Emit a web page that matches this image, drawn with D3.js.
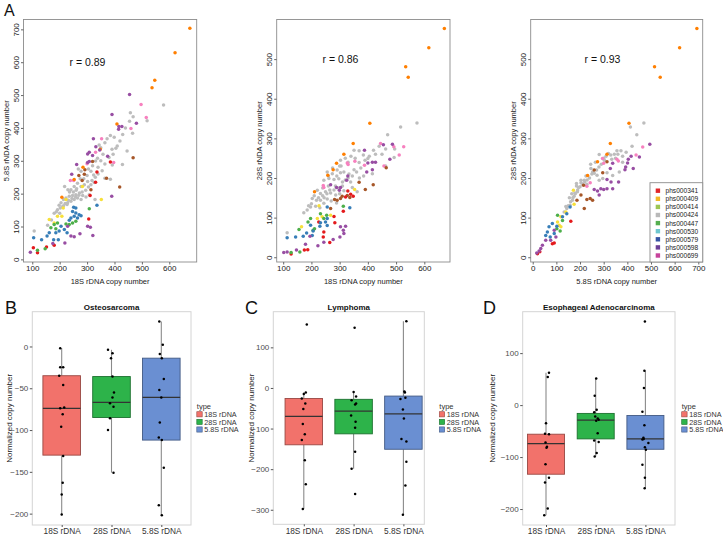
<!DOCTYPE html>
<html><head><meta charset="utf-8">
<script src="https://cdn.jsdelivr.net/npm/d3@7"></script>
<style>body{margin:0;background:#fff}svg{display:block;font-family:"Liberation Sans",Arial,sans-serif}</style>
</head><body><svg id="c" width="723" height="535"></svg>
<script>
// ---------- DATA ----------
const dotColors = {r:"#E41A1C", b:"#377EB8", g:"#4DAF4A", p:"#984EA3", o:"#FF7F00", y:"#F7E03A", n:"#A65628", k:"#F781BF", a:"#BDBDBD"};
const drawOrder = ["a","k","n","o","r","y","g","b","p"];

const studies = ["phs000341","phs000409","phs000414","phs000424","phs000447","phs000530","phs000579","phs000598","phs000699"];
const studyColors = ["#E0262A","#F2B825","#9DC653","#B9B9B9","#55AE4E","#6EC7CF","#3453A4","#6B3F97","#C7449C"];

// A1: x = 18S, y = 5.8S
const a1Points = [
 ["a", [[579,470],[458,446],[468,434],[519,422],[466,384],[373,367],[385,377],[399,372],[391,335],[405,338],[446,330],[344,348],[358,320],[429,289],[338,308],[331,299],[392,287],[268,275],[278,268],[314,268],[324,257],[365,247],[385,244],[218,222],[230,212],[241,212],[253,222],[265,232],[278,222],[290,227],[302,237],[314,227],[326,234],[205,172],[214,182],[223,187],[235,192],[247,194],[259,197],[272,202],[284,194],[296,190],[308,197],[265,187],[253,182],[241,177],[229,172],[278,182],[192,151],[202,156],[214,163],[227,167],[107,86],[156,104],[329,182],[180,140],[200,140],[260,210],[300,255],[350,300],[420,360],[340,280],
   [210,160],[220,170],[232,180],[245,185],[258,190],[270,195],[282,205],[295,210],[305,220],[318,240],[330,250],[340,260],[355,270],[365,290],[380,310],[395,320],[410,345],[188,145],[198,165],[236,205],[250,205],[262,215],[275,245],[288,245],[305,275],[320,285],[350,340],[365,355],[430,380],[440,400],[455,420],[170,120]]],
 ["k", [[497,471],[516,432],[460,398],[353,367],[331,326],[397,295],[300,291],[239,240],[251,240]]],
 ["n", [[468,309],[419,220],[320,298],[270,255],[290,259],[371,247],[292,273],[314,212],[282,240]]],
 ["o", [[675,703],[621,629],[547,545],[537,522],[409,412],[348,335],[285,280],[253,243],[208,189]]],
 ["r", [[385,296],[336,266],[331,235],[311,194],[306,123],[180,43],[152,38],[104,35],[119,20]]],
 ["y", [[283,222],[352,182],[223,182],[213,156],[192,131],[208,131],[162,121],[180,111]]],
 ["g", [[308,154],[259,116],[247,111],[235,106],[223,108],[192,111],[180,106],[168,96],[186,93],[147,32],[119,28]]],
 ["b", [[336,165],[251,159],[259,156],[247,146],[259,141],[253,131],[265,126],[241,126],[235,119],[271,136],[278,133],[205,101],[217,91],[198,86],[227,81],[186,81],[162,81],[154,71],[134,60],[105,66],[178,60],[195,60]]],
 ["p", [[455,502],[391,441],[416,404],[427,404],[415,396],[480,414],[323,367],[332,343],[346,333],[302,321],[308,326],[320,316],[375,314],[262,289],[302,295],[308,298],[244,259],[390,192],[302,101],[312,98],[321,73],[229,101],[274,78],[241,71],[253,69],[219,50],[175,48],[93,22]]]
];

// A2: x = 18S, y = 28S
const a2Points = [
 ["a", [[574,339],[516,329],[470,309],[463,273],[495,273],[493,252],[384,258],[351,270],[369,269],[427,260],[303,245],[369,239],[400,249],[416,211],[463,230],[256,215],[274,211],[291,220],[303,213],[315,215],[333,210],[351,221],[244,194],[262,199],[280,196],[297,198],[310,190],[339,190],[221,169],[232,161],[250,165],[268,162],[286,157],[315,168],[345,176],[362,165],[203,148],[218,144],[232,144],[244,136],[256,147],[270,142],[289,137],[215,129],[197,127],[185,119],[173,112],[114,62],[300,230],[330,240],[285,180],[260,180],[240,175],
   [210,155],[225,150],[240,155],[255,160],[265,170],[280,170],[295,175],[310,180],[320,195],[330,200],[345,205],[360,215],[375,225],[390,245],[405,255],[420,270],[440,280],[260,205],[275,225],[290,205],[305,230],[320,250],[340,255],[355,250],[200,135],[190,130],[230,125],[245,150],[300,160],[370,200],[385,205],[450,260]]],
 ["k", [[445,287],[492,279],[511,258],[527,279],[457,230],[327,238],[330,234],[354,242],[388,232],[242,181],[244,176]]],
 ["n", [[465,226],[369,189],[391,171],[419,183],[282,146],[291,144],[303,148],[309,154],[327,156],[336,151],[268,123]]],
 ["o", [[671,577],[616,529],[534,481],[543,454],[407,338],[348,287],[315,260],[277,221],[289,237],[258,207],[211,165]]],
 ["r", [[321,152],[339,159],[348,154],[329,167],[313,116],[226,89],[280,103],[283,87],[244,64],[242,51],[265,37],[187,19],[128,8],[175,18]]],
 ["y", [[353,171],[227,130],[268,106],[238,102],[221,98],[165,77]]],
 ["g", [[313,129],[232,110],[254,106],[244,98],[197,98],[188,89],[156,70],[206,68],[211,72],[159,13],[128,12]]],
 ["b", [[336,125],[256,127],[256,98],[250,89],[256,80],[232,87],[197,81],[206,66],[183,61],[171,53],[114,49],[144,51],[203,55],[230,78]]],
 ["p", [[487,285],[455,284],[478,247],[388,270],[400,238],[416,240],[427,240],[416,221],[396,215],[329,205],[325,194],[268,183],[289,176],[299,169],[303,176],[303,77],[321,78],[313,68],[315,60],[301,51],[277,45],[244,38],[223,29],[179,33],[195,53],[102,12],[114,13],[147,18]]]
];

// A3: x = 5.8S, y = 28S
const a3Points = [
 ["a", [[413,329],[470,339],[440,309],[356,269],[373,269],[345,260],[281,259],[320,262],[303,245],[334,247],[366,215],[246,224],[253,215],[272,207],[281,194],[296,199],[314,213],[338,206],[218,194],[229,184],[204,188],[194,176],[189,165],[175,154],[168,144],[158,131],[144,123],[133,114],[178,162],[185,186],[204,194],[380,255],
   [150,130],[160,140],[170,150],[180,160],[190,170],[200,178],[210,185],[220,190],[230,195],[240,200],[250,210],[260,212],[270,220],[280,228],[290,235],[300,250],[310,255],[330,258],[350,250],[360,260],[380,240],[395,265],[420,280],[165,160],[185,180],[225,205],[245,235],[265,240],[155,150],[140,128]]],
 ["k", [[437,258],[465,278],[362,243],[356,247],[300,237],[295,249],[243,188],[229,179]]],
 ["n", [[314,241],[260,220],[296,213],[215,182],[229,146],[243,148],[253,144],[218,123],[187,144],[204,157]]],
 ["o", [[694,577],[621,529],[515,481],[539,454],[407,338],[328,287],[314,260],[274,241],[232,206]]],
 ["r", [[161,91],[83,34],[91,36],[20,9],[30,14]]],
 ["y", [[172,169],[175,134],[140,114],[119,102],[105,89],[112,81],[119,77]]],
 ["g", [[105,106],[126,93],[102,72],[116,66]]],
 ["b", [[158,127],[144,110],[126,102],[83,85],[69,77],[62,64],[55,55],[74,51],[91,60],[102,78]]],
 ["p", [[495,285],[451,253],[425,224],[404,247],[416,255],[401,238],[390,221],[393,228],[338,237],[328,224],[314,196],[331,190],[363,190],[338,173],[260,171],[274,167],[288,173],[300,171],[314,173],[281,157],[91,68],[98,51],[76,43],[55,43],[41,30],[34,22],[27,16],[17,11]]]
];

const corrLabels = ["r = 0.89", "r = 0.86", "r = 0.93"];

// Box plots: stats = [lower whisker, Q1, median, Q3, upper whisker]; points = [value, jitter]
const boxTypes = ["18S rDNA","28S rDNA","5.8S rDNA"];
const boxFills = ["#F2726B","#2DB34A","#6A8FD2"];

const osteoStats = [[-202,-130,-74,-35,-2],[-151,-85,-67,-36,-4],[-202,-112,-61,-14,30]];
const osteoPoints = [
 [[-2,-0.03],[-25,-0.03],[-25,0.03],[-35,-0.05],[-46,0.03],[-74,-0.03],[-73,0.05],[-81,0.02],[-96,-0.01],[-131,0.03],[-163,0.02],[-177,0],[-201,0]],
 [[-4,-0.07],[-8,0.02],[-14,-0.01],[-36,0.02],[-55,0.05],[-61,0.02],[-68,-0.03],[-72,0.04],[-86,-0.03],[-100,-0.07],[-151,0.04]],
 [[30,-0.04],[2,0.03],[-9,-0.03],[-14,0.01],[-39,0.05],[-52,-0.04],[-61,0],[-91,-0.03],[-109,-0.05],[-112,0.01],[-145,0.05],[-190,-0.05],[-202,0.01]]
];
const lymphStats = [[-298,-140,-70,-26,-11],[-199,-113,-57,-28,-10],[-312,-151,-64,-20,164]];
const lymphPoints = [
 [[156,0.06],[-11,0.04],[-15,0],[-26,-0.04],[-38,0.03],[-52,-0.01],[-89,-0.02],[-114,0.02],[-128,-0.04],[-178,0.02],[-237,0.04],[-298,-0.02]],
 [[148,0.02],[-10,0],[-21,0.05],[-30,-0.04],[-41,0.03],[-38,0.05],[-68,-0.05],[-83,0.04],[-98,0.03],[-157,0.03],[-199,-0.04],[-261,0.03]],
 [[164,0.06],[-9,0.02],[-11,0.03],[-24,0.04],[-27,-0.06],[-53,-0.01],[-75,0.01],[-126,-0.04],[-132,0.06],[-182,0.06],[-240,0.04],[-312,-0.01]]
];
const esoStats = [[-212,-133,-74,-56,62],[-99,-65,-29,-16,51],[-160,-85,-65,-20,66]];
const esoPoints = [
 [[62,0.06],[54,0.035],[-35,0],[-55,-0.02],[-56,0.06],[-72,-0.01],[-80,0.02],[-82,0.01],[-114,-0.01],[-140,0.06],[-149,-0.02],[-199,0.035],[-212,-0.035]],
 [[51,0.01],[18,-0.02],[-9,0.02],[-14,-0.03],[-22,-0.01],[-26,0.04],[-28,0.06],[-30,0.01],[-54,0.04],[-68,-0.03],[-71,0.06],[-92,0.02],[-99,-0.02]],
 [[161,-0.01],[66,-0.02],[33,-0.03],[-13,-0.06],[-39,-0.02],[-63,-0.04],[-65,-0.035],[-66,-0.06],[-73,0.06],[-81,-0.01],[-86,0.01],[-115,-0.06],[-140,-0.01],[-160,-0.015]]
];

// ---------- DRAW ----------
const svg = d3.select("#c");

function scatterPanel(cfg) {
  const g = svg.append("g");
  const x = d3.scaleLinear().domain(cfg.xDomain).range([cfg.left, cfg.right]);
  const y = d3.scaleLinear().domain(cfg.yDomain).range([cfg.bottom, cfg.top]);
  const groups = cfg.points.slice().sort((a,b)=>drawOrder.indexOf(a[0])-drawOrder.indexOf(b[0]));
  groups.forEach(([code, pts]) => {
    g.append("g").selectAll("circle").data(pts).join("circle")
      .attr("cx", d => x(d[0])).attr("cy", d => y(d[1])).attr("r", 1.75)
      .attr("fill", dotColors[code]);
  });
  g.append("rect").attr("x", cfg.left).attr("y", cfg.top)
    .attr("width", cfg.right - cfg.left).attr("height", cfg.bottom - cfg.top)
    .attr("fill", "none").attr("stroke", "#8c8c8c").attr("stroke-width", 0.9);
  const xa = g.append("g").attr("transform", `translate(0,${cfg.bottom})`)
    .call(d3.axisBottom(x).tickValues(cfg.xTicks).tickSize(2.5).tickPadding(0.5).tickSizeOuter(0));
  xa.select(".domain").remove();
  xa.selectAll("line").attr("stroke", "#666");
  xa.selectAll("text").attr("font-size", 8).attr("fill", "#222").attr("font-family", null);
  const ya = g.append("g").attr("transform", `translate(${cfg.left},0)`)
    .call(d3.axisLeft(y).tickValues(cfg.yTicks).tickSize(2.5).tickSizeOuter(0));
  ya.select(".domain").remove();
  ya.selectAll("line").attr("stroke", "#666");
  ya.selectAll("text").attr("font-size", 8).attr("fill", "#222").attr("font-family", null)
    .attr("x", 0).attr("dy", 0).attr("text-anchor", "middle")
    .attr("transform", "translate(-4.6,0) rotate(-90)");
  g.append("text").attr("x", (cfg.left + cfg.right) / 2).attr("y", 283.5)
    .attr("text-anchor", "middle").attr("font-size", 7.5).attr("fill", "#222").text(cfg.xTitle);
  g.append("text").attr("transform", `translate(${cfg.left - 15},${(cfg.top + cfg.bottom) / 2}) rotate(-90)`)
    .attr("text-anchor", "middle").attr("font-size", 7.5).attr("fill", "#222").text(cfg.yTitle);
  g.append("text").attr("x", cfg.rx).attr("y", cfg.ry).attr("text-anchor", "middle")
    .attr("font-size", 10.5).attr("fill", "#111").text(cfg.rLabel);
  return g;
}

scatterPanel({left:23.5, right:196.7, top:19.5, bottom:262, xDomain:[68,700], yDomain:[-8,730],
  xTicks:[100,200,300,400,500,600], yTicks:[0,100,200,300,400,500,600,700], points:a1Points,
  xTitle:"18S rDNA copy number", yTitle:"5.8S rNDA copy number", rLabel:corrLabels[0], rx:87.5, ry:66});
scatterPanel({left:276.7, right:450, top:19.5, bottom:262, xDomain:[77,691], yDomain:[-12,600],
  xTicks:[100,200,300,400,500,600], yTicks:[0,100,200,300,400,500], points:a2Points,
  xTitle:"18S rDNA copy number", yTitle:"28S rNDA copy number", rLabel:corrLabels[1], rx:340.5, ry:62.7});
scatterPanel({left:530.7, right:702.7, top:19.5, bottom:262, xDomain:[-8.5,718.6], yDomain:[-12,600],
  xTicks:[0,100,200,300,400,500,600,700], yTicks:[0,100,200,300,400,500], points:a3Points,
  xTitle:"5.8S rDNA copy number", yTitle:"28S rNDA copy number", rLabel:corrLabels[2], rx:602.5, ry:62.7});

// legend for A3
const lg = svg.append("g");
lg.append("rect").attr("x", 650).attr("y", 182.7).attr("width", 52.7).attr("height", 79.3)
  .attr("fill", "#fff").attr("stroke", "#8c8c8c").attr("stroke-width", 0.9);
const ly = d3.scalePoint().domain(studies).range([190.7, 255.5]);
studies.forEach((s, i) => {
  lg.append("rect").attr("x", 655.7).attr("y", ly(s) - 2.2).attr("width", 4.4).attr("height", 4.4)
    .attr("fill", studyColors[i]);
  lg.append("text").attr("x", 665.5).attr("y", ly(s) + 2.4).attr("font-size", 6.6).attr("fill", "#222").text(s);
});

// panel letters
const letters = [["A",4,15.5,16],["B",5,313.5,18],["C",245,313.5,18],["D",483,313.5,18]];
letters.forEach(([t,x,y,s]) => svg.append("text").attr("x", x).attr("y", y).attr("font-size", s).attr("fill","#111").text(t));

function boxPanel(cfg) {
  const g = svg.append("g");
  const x = d3.scalePoint().domain(boxTypes).range([cfg.c1, cfg.c3]);
  const step = (cfg.c3 - cfg.c1) / 2;
  const y = d3.scaleLinear().domain(cfg.yDomain).range([cfg.bottom, cfg.top]);
  g.append("rect").attr("x", cfg.left).attr("y", cfg.top).attr("width", cfg.right - cfg.left)
    .attr("height", cfg.bottom - cfg.top).attr("fill", "#fff").attr("stroke", "#d4d4d4").attr("stroke-width", 1);
  const bw = cfg.bw;
  boxTypes.forEach((t, i) => {
    const s = cfg.stats[i], cx = x(t);
    g.append("line").attr("x1", cx).attr("x2", cx).attr("y1", y(s[0])).attr("y2", y(s[1])).attr("stroke", "#8a8a8a").attr("stroke-width", 1.1);
    g.append("line").attr("x1", cx).attr("x2", cx).attr("y1", y(s[3])).attr("y2", y(s[4])).attr("stroke", "#8a8a8a").attr("stroke-width", 1.1);
    g.append("rect").attr("x", cx - bw / 2).attr("y", y(s[3])).attr("width", bw).attr("height", y(s[1]) - y(s[3]))
      .attr("fill", boxFills[i]).attr("stroke", d3.color(boxFills[i]).darker(1.3)).attr("stroke-width", 0.9);
    g.append("line").attr("x1", cx - bw / 2).attr("x2", cx + bw / 2).attr("y1", y(s[2])).attr("y2", y(s[2]))
      .attr("stroke", "#333").attr("stroke-width", 1.3);
    g.append("g").selectAll("circle").data(cfg.points[i]).join("circle")
      .attr("cx", d => cx + d[1] * step).attr("cy", d => y(d[0])).attr("r", 1.25).attr("fill", "#000");
  });
  const ya = g.append("g").attr("transform", `translate(${cfg.left},0)`)
    .call(d3.axisLeft(y).tickValues(cfg.yTicks).tickSize(2.5).tickPadding(1.5).tickSizeOuter(0));
  ya.select(".domain").remove();
  ya.selectAll("line").attr("stroke", "#555");
  ya.selectAll("text").attr("font-size", 8).attr("fill", "#4d4d4d").attr("font-family", null);
  const xa = g.append("g").attr("transform", `translate(0,${cfg.bottom})`)
    .call(d3.axisBottom(x).tickSize(2).tickPadding(1.5).tickSizeOuter(0));
  xa.select(".domain").remove();
  xa.selectAll("line").attr("stroke", "#555");
  xa.selectAll("text").attr("font-size", 8.3).attr("fill", "#333").attr("font-family", null);
  g.append("text").attr("x", (cfg.left + cfg.right) / 2).attr("y", 309.5).attr("text-anchor", "middle")
    .attr("font-size", 8).attr("font-weight", "bold").attr("fill", "#111").text(cfg.title);
  g.append("text").attr("transform", `translate(${cfg.ytx},${(cfg.top + cfg.bottom) / 2}) rotate(-90)`)
    .attr("text-anchor", "middle").attr("font-size", 8).attr("fill", "#222").text("Normalized copy number");
  const lx = cfg.lx;
  g.append("text").attr("x", lx).attr("y", 409).attr("font-size", 7.5).attr("fill", "#333").text("type");
  const ky = d3.scalePoint().domain(boxTypes).range([414.3, 429.5]);
  boxTypes.forEach((t, i) => {
    g.append("rect").attr("x", lx).attr("y", ky(t) - 2.6).attr("width", 5.4).attr("height", 5.2)
      .attr("fill", boxFills[i]).attr("stroke", d3.color(boxFills[i]).darker(1.3)).attr("stroke-width", 0.6);
    g.append("text").attr("x", lx + 7.5).attr("y", ky(t) + 2.6).attr("font-size", 7.2).attr("fill", "#333").text(t);
  });
}

boxPanel({left:32.3, right:191, top:311.7, bottom:525, c1:61.7, c3:161.3, bw:37.6, yDomain:[-213.6,41.6],
  yTicks:[0,-50,-100,-150,-200], stats:osteoStats, points:osteoPoints, title:"Osteosarcoma", ytx:11.5, lx:196.8});
boxPanel({left:273.3, right:424.3, top:311.7, bottom:524.3, c1:303.8, c3:403.4, bw:37.5, yDomain:[-335.8,187.8],
  yTicks:[100,0,-100,-200,-300], stats:lymphStats, points:lymphPoints, title:"Lymphoma", ytx:253.5, lx:439.3});
boxPanel({left:522.7, right:675, top:311.7, bottom:525, c1:546, c3:645.4, bw:37, yDomain:[-230.7,179.7],
  yTicks:[100,0,-100,-200], stats:esoStats, points:esoPoints, title:"Esophageal Adenocarcinoma", ytx:495, lx:681.7});
</script>
</body></html>
